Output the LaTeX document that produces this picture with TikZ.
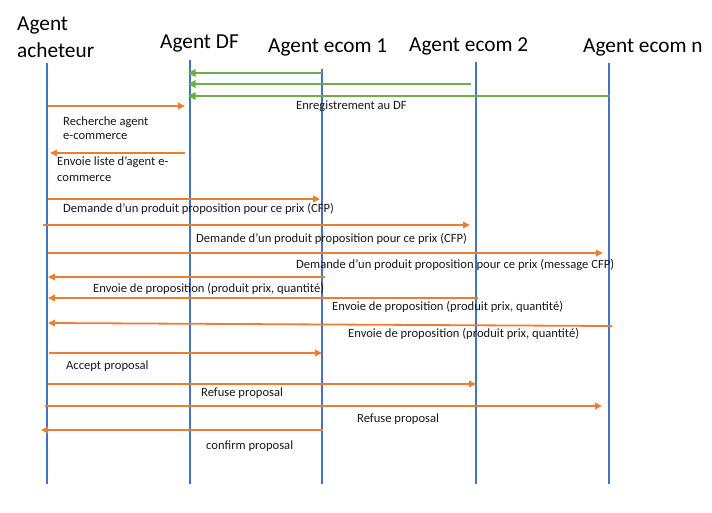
\documentclass[tikz,border=0pt]{standalone}
\usepackage{fontspec}
\setmainfont{Carlito}
\usetikzlibrary{arrows.meta}
\definecolor{lifeblue}{HTML}{4472C4}
\definecolor{reggreen}{HTML}{70AD47}
\definecolor{msgorange}{HTML}{ED7D31}
\begin{document}
\begin{tikzpicture}[x=1pt,y=-1pt,
  life/.style={lifeblue, line width=2.6pt},
  reg/.style={reggreen, line width=2.8pt, -{Triangle[length=7.5pt,width=7.5pt]}},
  omsg/.style={msgorange, line width=1.8pt, -{Triangle[length=7pt,width=6.5pt]}},
  head/.style={font=\fontsize{21.3}{25}\selectfont, anchor=base west, inner sep=0pt},
  lbl/.style={font=\fontsize{12.6}{14}\selectfont, anchor=base west, inner sep=0pt, text=black!90}]
\useasboundingbox (0,0) rectangle (712,513);

% headers
\node[head] (hach1) at (17,31) {Agent};
\node[head] (hach2) at (17,58) {acheteur};
\node[head] (hdf) at (160,49) {Agent DF};
\node[head] (he1) at (268,53) {Agent ecom 1};
\node[head] (he2) at (409,52) {Agent ecom 2};
\node[head] (hen) at (583,53) {Agent ecom n};

% lifelines
\coordinate (achT) at (47,63);  \coordinate (achB) at (47,484);
\coordinate (dfT) at (190,60);  \coordinate (dfB) at (190,484);
\coordinate (e1T) at (322,69);  \coordinate (e1B) at (322,484);
\coordinate (e2T) at (476,62);  \coordinate (e2B) at (476,484);
\coordinate (enT) at (609,63);  \coordinate (enB) at (609,484);
\draw[life] (achT) -- (achB);
\draw[life] (dfT) -- (dfB);
\draw[life] (e1T) -- (e1B);
\draw[life] (e2T) -- (e2B);
\draw[life] (enT) -- (enB);

% registration (green)
\draw[reg, shorten >=-2pt] (e1T |- 0,73) -- (dfT |- 0,73);
\draw[reg, shorten <=5pt, shorten >=-2pt] (e2T |- 0,84) -- (dfT |- 0,84);
\draw[reg, shorten >=-2pt] (enT |- 0,96) -- (dfT |- 0,96);
\node[lbl] (lreg) at (296,110) {Enregistrement au DF};

% messages (orange)
\draw[omsg, shorten <=1pt, shorten >=5pt] (achT |- 0,106) -- (dfT |- 0,106);
\node[lbl] (l1a) at (63,126) {Recherche agent};
\node[lbl] (l1b) at (63,140) {e-commerce};

\draw[omsg, shorten <=5pt, shorten >=3pt] (dfT |- 0,153) -- (achT |- 0,153);
\node[lbl] (l2a) at (57,166) {Envoie liste d’agent e-};
\node[lbl] (l2b) at (57,182) {commerce};

\draw[omsg, shorten <=1pt, shorten >=2pt] (achT |- 0,199) -- (e1T |- 0,199);
\node[lbl] (l3) at (63,212) {Demande d’un produit proposition pour ce prix (CFP)};

\draw[omsg, shorten <=-4pt, shorten >=6pt] (achT |- 0,225) -- (e2T |- 0,225);
\node[lbl] (l4) at (196,243) {Demande d’un produit proposition pour ce prix (CFP)};

\draw[omsg, shorten <=1pt, shorten >=6pt] (achT |- 0,253) -- (enT |- 0,253);
\node[lbl] (l5) at (296,269) {Demande d’un produit proposition pour ce prix (message CFP)};

\draw[omsg, shorten <=-3pt, shorten >=1pt] (e1T |- 0,277) -- (achT |- 0,277);
\node[lbl] (l6) at (93,292) {Envoie de proposition (produit prix, quantité)};

\draw[omsg, shorten <=-2pt, shorten >=1pt] (e2T |- 0,298) -- (achT |- 0,298);
\node[lbl] (l7) at (332,310) {Envoie de proposition (produit prix, quantité)};

\draw[omsg, shorten <=-3pt, shorten >=1pt] (enT |- 0,326) -- (achT |- 0,323);
\node[lbl] (l8) at (348,337) {Envoie de proposition (produit prix, quantité)};

\draw[omsg, shorten <=2pt, shorten >=0pt] (achT |- 0,353) -- (e1T |- 0,353);
\node[lbl] (l9) at (66,369) {Accept proposal};

\draw[omsg, shorten <=1pt, shorten >=0pt] (achT |- 0,384) -- (e2T |- 0,384);
\node[lbl] (l10) at (201,396) {Refuse proposal};

\draw[omsg, shorten <=-2pt, shorten >=7pt] (achT |- 0,406) -- (enT |- 0,406);
\node[lbl] (l11) at (357,422) {Refuse proposal};

\draw[omsg, shorten <=-1pt, shorten >=-6pt] (e1T |- 0,430) -- (achT |- 0,430);
\node[lbl] (l12) at (206,449) {confirm proposal};
\end{tikzpicture}
\end{document}
